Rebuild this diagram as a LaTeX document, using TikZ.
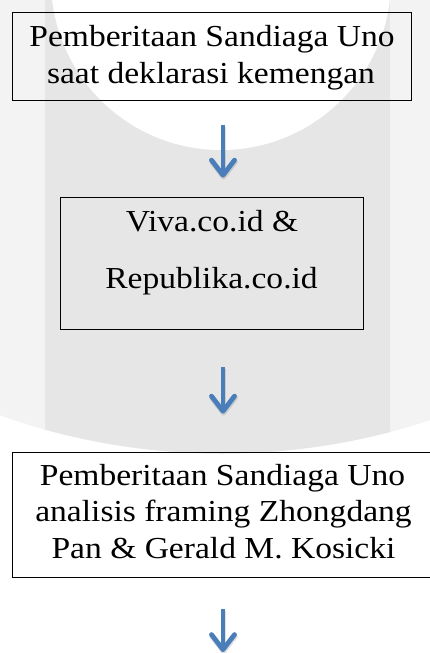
\documentclass[tikz,border=0pt]{standalone}
\usepackage{fontspec}
\setmainfont[FakeStretch=1.1]{Liberation Serif}
\usetikzlibrary{arrows.meta,calc}
\definecolor{outergrey}{HTML}{F3F3F3}
\definecolor{bandgrey}{HTML}{E6E6E6}
\definecolor{arrowblue}{HTML}{4A7EBB}
\tikzset{
  flowbox/.style={draw=black, line width=1.9pt, rectangle, inner sep=0pt},
  boxtext/.style={anchor=base, inner sep=0pt, font=\fontsize{30.5}{36}\selectfont},
  flowarrow/.style={draw=arrowblue, line width=4.8pt,
    -{Straight Barb[length=15pt,width=23pt,round]}},
  arrowshadow/.style={draw=black, opacity=0.12, line width=5.5pt,
    -{Straight Barb[length=15pt,width=23pt,round]}}
}
\begin{document}
\begin{tikzpicture}[x=1pt,y=-1pt]
\useasboundingbox (0,0) rectangle (430,653);
% background watermark
\fill[white] (0,0) rectangle (430,653);
\begin{scope}
  \clip (222,-208.5) circle[radius=662pt];
  \fill[outergrey] (0,0) rectangle (430,653);
  \fill[bandgrey] (45,0) rectangle (390,653);
\end{scope}
\fill[white] (221,-20) circle[radius=170pt];

% boxes
\node[flowbox, minimum width=399pt, minimum height=88pt] (b1) at (212,56.5) {};
\node[flowbox, minimum width=303pt, minimum height=132pt] (b2) at (212,263.5) {};
\node[flowbox, minimum width=420pt, minimum height=125pt] (b3) at (222.5,515) {};

% texts
\node[boxtext] (t1a) at (212,46.7) {Pemberitaan Sandiaga Uno};
\node[boxtext] (t1b) at (211,83.2) {saat deklarasi kemengan};
\node[boxtext] (t2a) at (212,231.7) {Viva.co.id \&};
\node[boxtext] (t2b) at (211.5,288.3) {Republika.co.id};
\node[boxtext] (t3a) at (222.5,485.7) {Pemberitaan Sandiaga Uno};
\node[boxtext] (t3b) at (223.5,521.7) {analisis framing Zhongdang};
\node[boxtext] (t3c) at (223.5,558) {Pan \& Gerald M. Kosicki};

% arrows
\coordinate (a1s) at ($(b1.south)+(11,24)$);
\coordinate (a1e) at ($(b2.north)+(11,-19)$);
\coordinate (a2s) at ($(b2.south)+(11,37)$);
\coordinate (a2e) at ($(b3.north)+(0.5,-38)$);
\coordinate (a3s) at ($(b3.south)+(0.5,31)$);
\coordinate (a3e) at (223,652);
\foreach \s/\e in {a1s/a1e,a2s/a2e,a3s/a3e}{
  \draw[arrowshadow] ($(\s)+(0.5,2)$) -- ($(\e)+(0.5,2)$);
  \draw[flowarrow] (\s) -- (\e);
}
\end{tikzpicture}
\end{document}
